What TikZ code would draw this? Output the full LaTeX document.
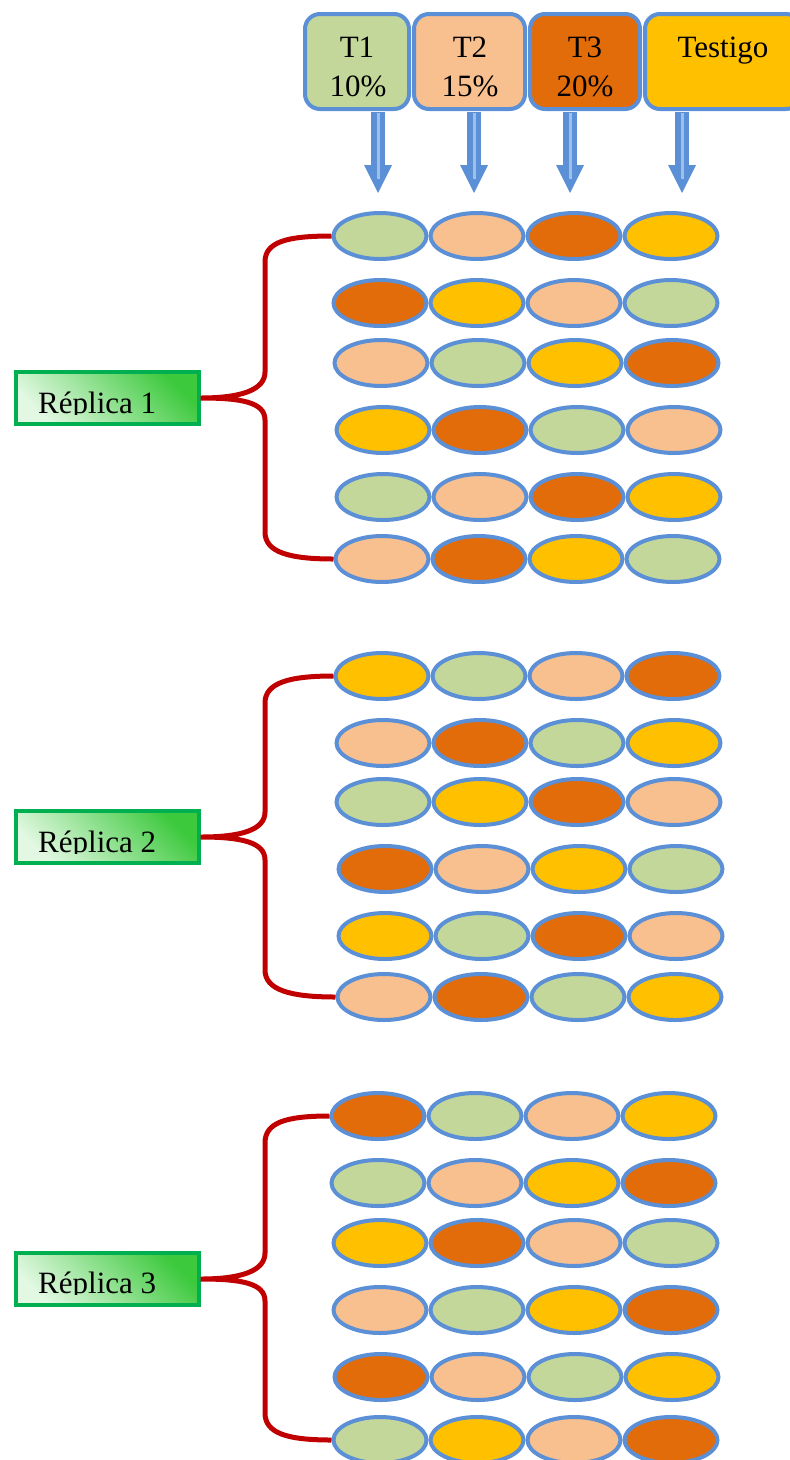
\documentclass[tikz,border=0pt]{standalone}
\usepackage{fontspec}
\setmainfont{Liberation Serif}
\usetikzlibrary{shapes.geometric}
\definecolor{cG}{HTML}{C4D79B}
\definecolor{cP}{HTML}{F8BF8F}
\definecolor{cO}{HTML}{E26B0A}
\definecolor{cY}{HTML}{FFC000}
\definecolor{bblue}{HTML}{5B8FD6}
\definecolor{lblue}{HTML}{9DC0EA}
\definecolor{bred}{HTML}{C00000}
\definecolor{gdark}{HTML}{3CC93C}
\definecolor{glight}{HTML}{E2F8E2}
\definecolor{gborder}{HTML}{00B050}
\tikzset{
 plotcell/.style={ellipse, draw=bblue, line width=4pt, minimum width=93pt, minimum height=46pt, inner sep=0pt},
 tbox/.style={draw=bblue, line width=4pt, rounded corners=15pt, minimum height=95pt, inner sep=0pt},
 lbl/.style={font=\fontsize{31}{36}\selectfont, inner sep=0pt},
 repbox/.style={draw=gborder, line width=3.5pt, minimum width=183pt, minimum height=52pt, inner sep=0pt,
   bottom color=glight, top color=gdark, shading angle=-45},
 brace/.style={draw=bred, line width=5pt},
}
\newcommand\prow[8]{%
 \node[plotcell,fill=#5] (e-#1-#2-1) at (#3,#4) {};
 \node[plotcell,fill=#6] (e-#1-#2-2) at (#3+97,#4) {};
 \node[plotcell,fill=#7] (e-#1-#2-3) at (#3+194,#4) {};
 \node[plotcell,fill=#8] (e-#1-#2-4) at (#3+291,#4) {};
}
\newcommand\repbrace[4]{% replica, top y, tip y, bottom y
 \draw[brace] (e-#1-1-1.west) .. controls +(-45,0) and +(0,-20) .. (265,#2+27)
   -- (265,#3-24) .. controls +(0,18) and +(40,0) .. (rep#1.east)
   .. controls +(40,0) and +(0,-18) .. (265,#3+24)
   -- (265,#4-27) .. controls +(0,20) and +(-45,0) .. (e-#1-6-1.west);
}
\begin{document}
\begin{tikzpicture}[x=1pt,y=-1pt]
\useasboundingbox (0,0) rectangle (790,1460);
% treatment boxes
\node[tbox, fill=cG, minimum width=104pt] (t1) at (357,61.5) {};
\node[tbox, fill=cP, minimum width=111pt] (t2) at (469.5,61.5) {};
\node[tbox, fill=cO, minimum width=110pt] (t3) at (585,61.5) {};
\node[tbox, fill=cY, minimum width=156pt] (t4) at (723,61.5) {};
\node[lbl, anchor=base] (t1a) at (357,57) {T1};
\node[lbl, anchor=base] (t1b) at (358,96) {10\%};
\node[lbl, anchor=base] (t2a) at (470,57) {T2};
\node[lbl, anchor=base] (t2b) at (470,96) {15\%};
\node[lbl, anchor=base] (t3a) at (585,57) {T3};
\node[lbl, anchor=base] (t3b) at (585,96) {20\%};
\node[lbl, anchor=base] (t4a) at (723,57) {Testigo};
% block arrows
\foreach \x in {378,474,570,682} {
 \fill[bblue] (\x-7,112) rectangle (\x+7,166);
 \fill[bblue] (\x-14,165) -- (\x+14,165) -- (\x,193) -- cycle;
 \draw[lblue, line width=3pt] (\x,113) -- (\x,179);
}
% Replica 1
\prow{1}{1}{380}{236}{cG}{cP}{cO}{cY}
\prow{1}{2}{380}{303}{cO}{cY}{cP}{cG}
\prow{1}{3}{381}{363}{cP}{cG}{cY}{cO}
\prow{1}{4}{383}{430}{cY}{cO}{cG}{cP}
\prow{1}{5}{383}{497}{cG}{cP}{cO}{cY}
\prow{1}{6}{382}{559}{cP}{cO}{cY}{cG}
% Replica 2
\prow{2}{1}{382}{676}{cY}{cG}{cP}{cO}
\prow{2}{2}{383}{743}{cP}{cO}{cG}{cY}
\prow{2}{3}{383}{802}{cG}{cY}{cO}{cP}
\prow{2}{4}{385}{869}{cO}{cP}{cY}{cG}
\prow{2}{5}{385}{936}{cY}{cG}{cO}{cP}
\prow{2}{6}{384}{997}{cP}{cO}{cG}{cY}
% Replica 3
\prow{3}{1}{378}{1116}{cO}{cG}{cP}{cY}
\prow{3}{2}{378}{1183}{cG}{cP}{cY}{cO}
\prow{3}{3}{380}{1243}{cY}{cO}{cP}{cG}
\prow{3}{4}{380}{1310}{cP}{cG}{cY}{cO}
\prow{3}{5}{381}{1377}{cO}{cP}{cG}{cY}
\prow{3}{6}{380}{1440}{cG}{cY}{cP}{cO}
% replica boxes
\node[repbox] (rep1) at (107.5,398) {};
\node[repbox] (rep2) at (107.5,837) {};
\node[repbox] (rep3) at (107.5,1279) {};
\begin{scope}
 \clip (15,370) rectangle (200,414.5);
 \node[lbl, anchor=base west] (rep1t) at (38,413) {Réplica 1};
\end{scope}
\begin{scope}
 \clip (15,810) rectangle (200,853.5);
 \node[lbl, anchor=base west] (rep2t) at (38,852) {Réplica 2};
\end{scope}
\begin{scope}
 \clip (15,1250) rectangle (200,1294.5);
 \node[lbl, anchor=base west] (rep3t) at (38,1293) {Réplica 3};
\end{scope}
% braces
\repbrace{1}{235}{396}{559}
\repbrace{2}{676}{836}{997}
\repbrace{3}{1116}{1277}{1440}
\end{tikzpicture}
\end{document}
